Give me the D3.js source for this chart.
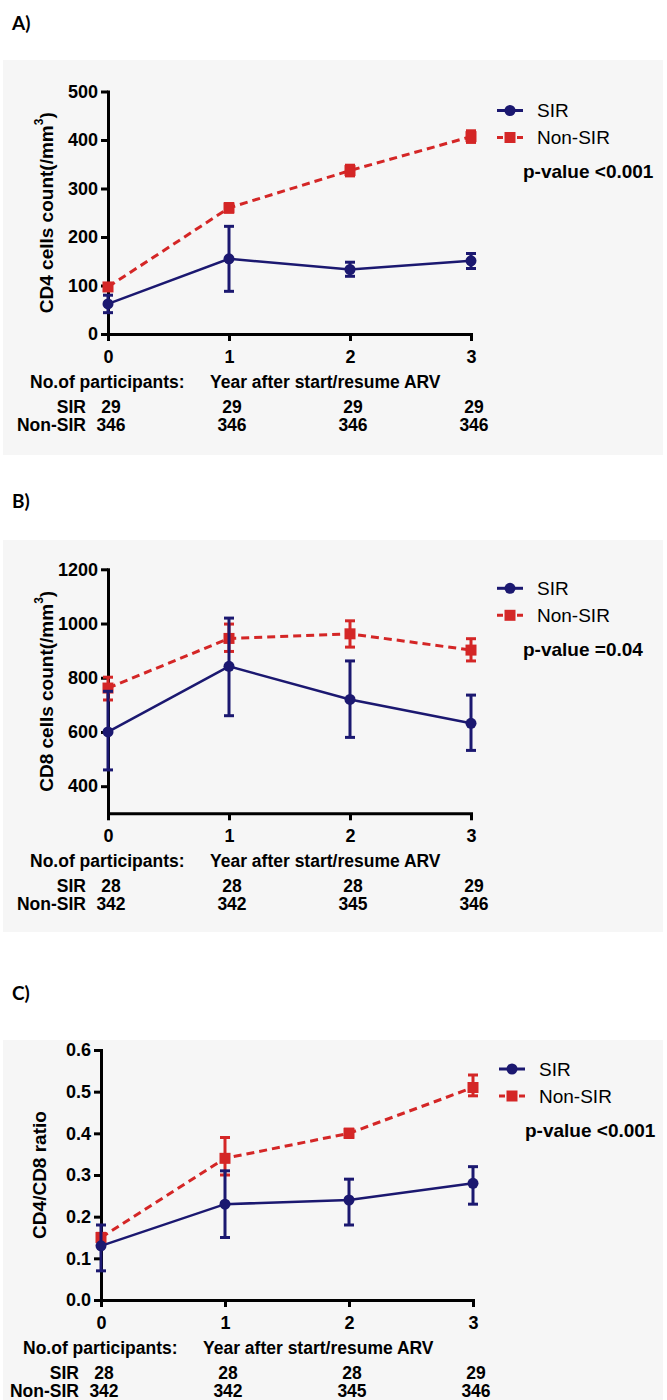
<!DOCTYPE html>
<html>
<head>
<meta charset="utf-8">
<script src="https://cdn.jsdelivr.net/npm/d3@7"></script>
<style>
  body { margin: 0; background: #fff; }
</style>
</head>
<body>
<script>
// data
var years = [0, 1, 2, 3]

var cd4SirMean = [62, 155, 133, 151]
var cd4SirLo   = [44, 88, 119, 135]
var cd4SirHi   = [80, 222, 148, 166]
var cd4NonMean = [97, 260, 337, 407]
var cd4NonLo   = [91, 251, 326, 395]
var cd4NonHi   = [103, 269, 348, 419]

var cd8SirMean = [600, 842, 720, 632]
var cd8SirLo   = [460, 660, 580, 532]
var cd8SirHi   = [750, 1020, 862, 736]
var cd8NonMean = [762, 945, 962, 902]
var cd8NonLo   = [718, 897, 913, 862]
var cd8NonHi   = [802, 998, 1010, 944]

var ratioSirMean = [0.13, 0.23, 0.24, 0.28]
var ratioSirLo   = [0.07, 0.15, 0.18, 0.23]
var ratioSirHi   = [0.18, 0.31, 0.29, 0.32]
var ratioNonMean = [0.15, 0.34, 0.40, 0.51]
var ratioNonLo   = [0.14, 0.30, 0.39, 0.49]
var ratioNonHi   = [0.16, 0.39, 0.41, 0.54]

var sirCountsA = [29, 29, 29, 29]
var nonCountsA = [346, 346, 346, 346]
var sirCountsB = [28, 28, 28, 29]
var nonCountsB = [342, 342, 345, 346]
var sirCountsC = [28, 28, 28, 29]
var nonCountsC = [342, 342, 345, 346]

var ticksA = [0, 100, 200, 300, 400, 500]
var ticksB = [400, 600, 800, 1000, 1200]
var ticksC = [0, 0.1, 0.2, 0.3, 0.4, 0.5, 0.6]

var seriesNames = ["SIR", "Non-SIR"]
var pValues = ["p-value <0.001", "p-value =0.04", "p-value <0.001"]

var navy = "#1b1870", red = "#d42626"
var font = "'Liberation Sans', Arial, sans-serif"

var svg = d3.select("body")
  .append("svg")
    .attr("width", 667)
    .attr("height", 1400)

function drawPanel(p) {
    var g = svg.append("g")

    // grey panel background
    g.append("rect")
        .attr("x", 3)
        .attr("y", p.bgTop)
        .attr("width", 660)
        .attr("height", p.bgBottom - p.bgTop)
        .attr("fill", "#f6f6f6")

    // panel letter
    g.append("text")
        .attr("x", 12)
        .attr("y", p.labelY)
        .attr("font-family", "Lato, 'Open Sans', sans-serif")
        .attr("font-weight", "bold")
        .attr("font-size", "19px")
        .text(p.label)

    var x = d3.scaleLinear().domain([0, 3]).range([p.left, p.right])
    var y = d3.scaleLinear().domain(p.yDomain).range([p.bottom, p.top])

    var yAxis = g.append("g")
        .attr("transform", "translate(" + p.left + ",0)")
        .call(d3.axisLeft(y).tickValues(p.ticks).tickSize(7).tickSizeOuter(0)
            .tickPadding(3).tickFormat(p.fmt))

    var xAxis = g.append("g")
        .attr("transform", "translate(0," + p.bottom + ")")
        .call(d3.axisBottom(x).tickValues(years).tickSize(7).tickSizeOuter(0)
            .tickPadding(9).tickFormat(d3.format("d")))

    ;[yAxis, xAxis].forEach(function(a) {
        a.selectAll("path, line").attr("stroke", "#000").attr("stroke-width", 3)
        a.select(".domain").attr("stroke-linecap", "square")
        a.selectAll("text")
            .attr("fill", "#000")
            .attr("font-family", font)
            .attr("font-weight", "bold")
            .attr("font-size", "18px")
    })

    // y title
    var yt = g.append("text")
        .attr("transform", "translate(" + (p.left - 62) + "," + ((p.top + p.bottom) / 2) + ") rotate(-90)")
        .attr("text-anchor", "middle")
        .attr("dominant-baseline", "central")
        .attr("font-family", font)
        .attr("font-weight", "bold")
        .attr("font-size", "19px")
        .text(p.yTitle)
    if (p.sup) {
        yt.append("tspan").attr("font-size", "12px").attr("dy", "-0.6em").text("3")
        yt.append("tspan").attr("dy", "0.4em").text(")")
    }

    // series: Non-SIR first so SIR sits on top
    var series = [
        {name: seriesNames[1], mean: p.nonMean, lo: p.nonLo, hi: p.nonHi, color: red, dash: "8,5", shape: "square"},
        {name: seriesNames[0], mean: p.sirMean, lo: p.sirLo, hi: p.sirHi, color: navy, dash: null, shape: "circle"}
    ]

    series.forEach(function(s) {
        var sg = g.append("g")

        sg.append("path")
            .datum(years)
            .attr("fill", "none")
            .attr("stroke", s.color)
            .attr("stroke-width", s.shape == "square" ? 3 : 2.5)
            .attr("stroke-dasharray", s.dash)
            .attr("d", d3.line()
                .x(function(d, i) { return x(d) })
                .y(function(d, i) { return y(s.mean[i]) }))

        // error bars
        sg.selectAll(".err")
            .data(years)
            .join("line")
            .attr("x1", function(d) { return x(d) })
            .attr("x2", function(d) { return x(d) })
            .attr("y1", function(d, i) { return y(s.lo[i]) })
            .attr("y2", function(d, i) { return y(s.hi[i]) })
            .attr("stroke", s.color)
            .attr("stroke-width", 3)

        ;["lo", "hi"].forEach(function(k) {
            sg.selectAll(".cap-" + k)
                .data(years)
                .join("line")
                .attr("x1", function(d) { return x(d) - 5 })
                .attr("x2", function(d) { return x(d) + 5 })
                .attr("y1", function(d, i) { return y(s[k][i]) })
                .attr("y2", function(d, i) { return y(s[k][i]) })
                .attr("stroke", s.color)
                .attr("stroke-width", 3)
        })

        if (s.shape == "circle") {
            sg.selectAll("circle")
                .data(years)
                .join("circle")
                .attr("cx", function(d) { return x(d) })
                .attr("cy", function(d, i) { return y(s.mean[i]) })
                .attr("r", 5.5)
                .attr("fill", s.color)
        } else {
            sg.selectAll("rect")
                .data(years)
                .join("rect")
                .attr("x", function(d) { return x(d) - 5.5 })
                .attr("y", function(d, i) { return y(s.mean[i]) - 5.5 })
                .attr("width", 11)
                .attr("height", 11)
                .attr("fill", s.color)
        }
    })

    // legend
    var legendRows = [
        {name: seriesNames[0], color: navy, dash: null, shape: "circle", dy: 19},
        {name: seriesNames[1], color: red, dash: "6,4", shape: "square", dy: 46}
    ]
    legendRows.forEach(function(r) {
        var ly = p.top + r.dy
        g.append("line")
            .attr("x1", p.legendX).attr("x2", p.legendX + 26)
            .attr("y1", ly).attr("y2", ly)
            .attr("stroke", r.color)
            .attr("stroke-width", 3)
            .attr("stroke-dasharray", r.dash)
        if (r.shape == "circle") {
            g.append("circle").attr("cx", p.legendX + 13).attr("cy", ly).attr("r", 5.5).attr("fill", r.color)
        } else {
            g.append("rect").attr("x", p.legendX + 7.5).attr("y", ly - 5.5)
                .attr("width", 11).attr("height", 11).attr("fill", r.color)
        }
        g.append("text")
            .attr("x", p.legendX + 40)
            .attr("y", ly)
            .attr("dominant-baseline", "central")
            .attr("font-family", font)
            .attr("font-size", "19px")
            .text(r.name)
    })

    g.append("text")
        .attr("x", p.legendX + 26)
        .attr("y", p.top + 80)
        .attr("dominant-baseline", "central")
        .attr("font-family", font)
        .attr("font-weight", "bold")
        .attr("font-size", "19px")
        .text(p.pValue)

    // participants table under the x axis
    var tbl = g.append("g")
        .attr("font-family", font)
        .attr("font-weight", "bold")
        .attr("font-size", "17.5px")

    tbl.append("text")
        .attr("x", p.left - 78)
        .attr("y", p.bottom + 54)
        .text("No.of participants:")

    tbl.append("text")
        .attr("x", p.left + 102)
        .attr("y", p.bottom + 54)
        .text("Year after start/resume ARV")

    var rows = [
        {name: seriesNames[0], counts: p.sirCounts, dy: 79},
        {name: seriesNames[1], counts: p.nonCounts, dy: 97}
    ]
    rows.forEach(function(r) {
        tbl.append("text")
            .attr("x", p.left - 22)
            .attr("y", p.bottom + r.dy)
            .attr("text-anchor", "end")
            .text(r.name)
        tbl.selectAll(null)
            .data(years)
            .join("text")
            .attr("x", function(d) { return x(d) + 3 })
            .attr("y", p.bottom + r.dy)
            .attr("text-anchor", "middle")
            .text(function(d, i) { return r.counts[i] })
    })
}

drawPanel({
    label: "A)", labelY: 30, bgTop: 60, bgBottom: 455,
    left: 108, right: 471, top: 91.5, bottom: 334,
    yDomain: [0, 500], ticks: ticksA, fmt: d3.format("d"),
    yTitle: "CD4 cells count(/mm", sup: true,
    sirMean: cd4SirMean, sirLo: cd4SirLo, sirHi: cd4SirHi,
    nonMean: cd4NonMean, nonLo: cd4NonLo, nonHi: cd4NonHi,
    sirCounts: sirCountsA, nonCounts: nonCountsA,
    legendX: 497, pValue: pValues[0]
})

drawPanel({
    label: "B)", labelY: 508, bgTop: 540, bgBottom: 932,
    left: 108, right: 471, top: 569.3, bottom: 813.3,
    yDomain: [300, 1200], ticks: ticksB, fmt: d3.format("d"),
    yTitle: "CD8 cells count(/mm", sup: true,
    sirMean: cd8SirMean, sirLo: cd8SirLo, sirHi: cd8SirHi,
    nonMean: cd8NonMean, nonLo: cd8NonLo, nonHi: cd8NonHi,
    sirCounts: sirCountsB, nonCounts: nonCountsB,
    legendX: 497, pValue: pValues[1]
})

drawPanel({
    label: "C)", labelY: 1000, bgTop: 1040, bgBottom: 1400,
    left: 101, right: 473, top: 1050, bottom: 1300,
    yDomain: [0, 0.6], ticks: ticksC, fmt: d3.format(".1f"),
    yTitle: "CD4/CD8 ratio", sup: false,
    sirMean: ratioSirMean, sirLo: ratioSirLo, sirHi: ratioSirHi,
    nonMean: ratioNonMean, nonLo: ratioNonLo, nonHi: ratioNonHi,
    sirCounts: sirCountsC, nonCounts: nonCountsC,
    legendX: 499, pValue: pValues[2]
})
</script>
</body>
</html>
